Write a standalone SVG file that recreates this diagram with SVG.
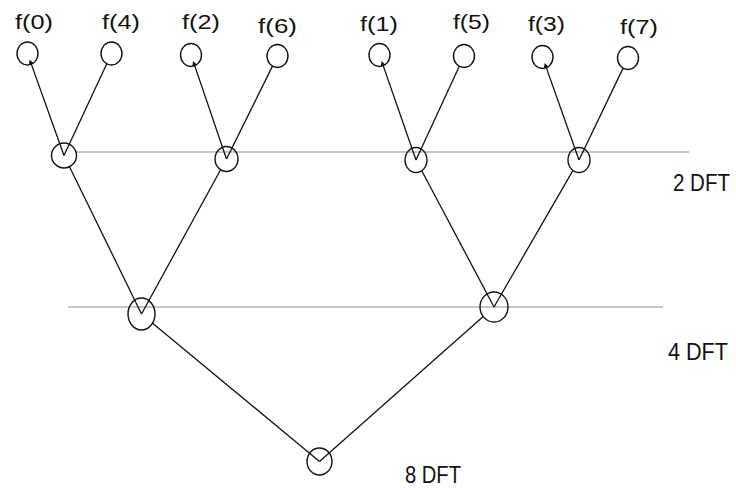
<svg xmlns="http://www.w3.org/2000/svg" width="736" height="490" viewBox="0 0 736 490">
<style>
.bg{fill:#ffffff}
.lvl{stroke:#b4b4b4;stroke-width:1.5;fill:none}
.edge{stroke:#111;stroke-width:1.3;fill:none}
.node{stroke:#111;stroke-width:1.4;fill:none}
.lbl{font-family:"Liberation Sans",Arial,sans-serif;font-size:21px;fill:#111}
.big{font-size:23px}
</style>
<defs>
<marker id="tip" viewBox="0 0 6 6" refX="0.5" refY="3" markerWidth="4" markerHeight="4" orient="auto-start-reverse">
<path d="M0,0 L6,3 L0,6 z" fill="#111"/>
</marker>
</defs>
<rect class="bg" x="0" y="0" width="736" height="490"/>
<g id="levels">
<line class="lvl" x1="76" y1="152" x2="689" y2="152"/>
<line class="lvl" x1="68" y1="307" x2="663" y2="307"/>
</g>
<g id="connectors">
<line class="edge" x1="31.2" y1="63.9" x2="64" y2="155.5" marker-start="url(#tip)"/>
<line class="edge" x1="106.9" y1="63.5" x2="64" y2="155.5"/>
<line class="edge" x1="194.6" y1="65.4" x2="226.5" y2="159" marker-start="url(#tip)"/>
<line class="edge" x1="272.6" y1="65.9" x2="226.5" y2="159"/>
<line class="edge" x1="383.1" y1="65.4" x2="416" y2="160" marker-start="url(#tip)"/>
<line class="edge" x1="459.4" y1="66" x2="416" y2="160"/>
<line class="edge" x1="546.2" y1="67.4" x2="579" y2="160" marker-start="url(#tip)"/>
<line class="edge" x1="623.2" y1="67.9" x2="579" y2="160"/>
<line class="edge" x1="69.5" y1="166.7" x2="141.5" y2="314"/>
<line class="edge" x1="220.5" y1="170" x2="141.5" y2="314"/>
<line class="edge" x1="421.9" y1="171" x2="494" y2="307"/>
<line class="edge" x1="572.7" y1="170.8" x2="494" y2="307"/>
<line class="edge" x1="152.3" y1="322.9" x2="319.5" y2="461.5"/>
<line class="edge" x1="483.5" y1="316.3" x2="319.5" y2="461.5"/>
</g>
<g id="f0"><ellipse class="node" cx="27.5" cy="53.5" rx="10.5" ry="11.5"/><text class="lbl" x="15" y="29" textLength="38" lengthAdjust="spacingAndGlyphs">f(0)</text></g>
<g id="f4"><ellipse class="node" cx="111.5" cy="53.5" rx="10.5" ry="11.5"/><text class="lbl" x="102" y="29" textLength="38" lengthAdjust="spacingAndGlyphs">f(4)</text></g>
<g id="f2"><ellipse class="node" cx="191" cy="55" rx="10.5" ry="11.5"/><text class="lbl" x="182" y="29" textLength="38" lengthAdjust="spacingAndGlyphs">f(2)</text></g>
<g id="f6"><ellipse class="node" cx="277.5" cy="56" rx="10.5" ry="11.5"/><text class="lbl" x="258" y="33" textLength="39" lengthAdjust="spacingAndGlyphs">f(6)</text></g>
<g id="f1"><ellipse class="node" cx="379.5" cy="55" rx="10.5" ry="11.5"/><text class="lbl" x="360" y="31" textLength="38" lengthAdjust="spacingAndGlyphs">f(1)</text></g>
<g id="f5"><ellipse class="node" cx="464" cy="56" rx="10.5" ry="11.5"/><text class="lbl" x="453" y="29" textLength="37" lengthAdjust="spacingAndGlyphs">f(5)</text></g>
<g id="f3"><ellipse class="node" cx="542.5" cy="57" rx="10.5" ry="11.5"/><text class="lbl" x="528" y="31" textLength="37" lengthAdjust="spacingAndGlyphs">f(3)</text></g>
<g id="f7"><ellipse class="node" cx="628" cy="58" rx="10.5" ry="11.5"/><text class="lbl" x="620" y="34" textLength="38" lengthAdjust="spacingAndGlyphs">f(7)</text></g>
<g id="a1"><ellipse class="node" cx="64" cy="155.5" rx="12.5" ry="12.5"/></g>
<g id="a2"><ellipse class="node" cx="226.5" cy="159" rx="11.5" ry="12.5"/></g>
<g id="a3"><ellipse class="node" cx="416" cy="160" rx="11" ry="12.5"/></g>
<g id="a4"><ellipse class="node" cx="579" cy="160" rx="11" ry="12.5"/></g>
<g id="b1"><ellipse class="node" cx="141.5" cy="314" rx="13.5" ry="16"/></g>
<g id="b2"><ellipse class="node" cx="494" cy="307" rx="14" ry="15"/></g>
<g id="root"><ellipse class="node" cx="319.5" cy="461.5" rx="12.5" ry="13.5"/></g>
<g id="labels">
<text class="lbl big" x="673" y="191" textLength="57" lengthAdjust="spacingAndGlyphs">2 DFT</text>
<text class="lbl big" x="668" y="360" textLength="60" lengthAdjust="spacingAndGlyphs">4 DFT</text>
<text class="lbl big" x="405" y="483" textLength="56" lengthAdjust="spacingAndGlyphs">8 DFT</text>
</g>
</svg>
